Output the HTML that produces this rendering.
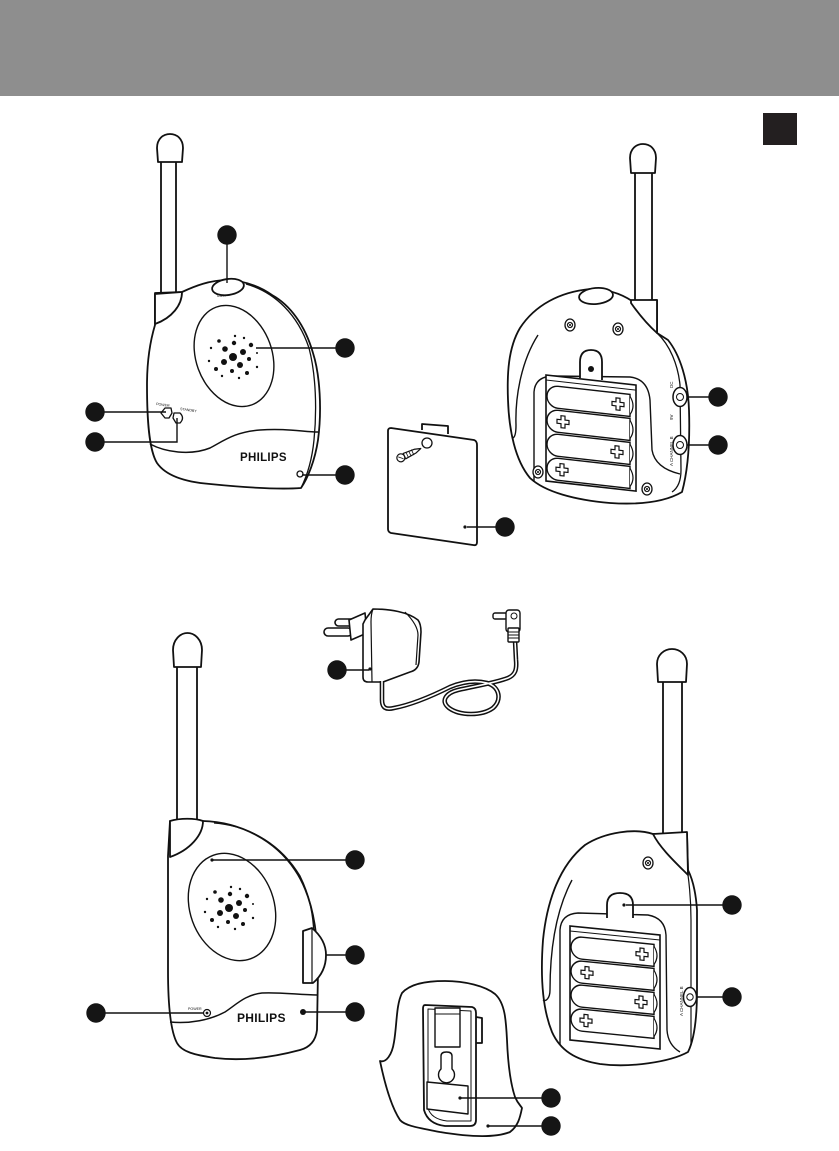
<!DOCTYPE html>
<html><head><meta charset="utf-8"><style>
html,body{margin:0;padding:0;background:#fff;}
svg{display:block;}
text{font-family:"Liberation Sans",sans-serif;fill:#111;}
</style></head><body>
<svg width="839" height="1151" viewBox="0 0 839 1151" xmlns="http://www.w3.org/2000/svg">
<defs>
<g id="dots" fill="#111">
<circle cx="219" cy="341" r="1.8"/><circle cx="235" cy="336" r="1.2"/><circle cx="244" cy="338" r="1.2"/><circle cx="211" cy="348" r="1.2"/>
<circle cx="225" cy="349" r="2.8"/><circle cx="234" cy="343" r="2.2"/><circle cx="243" cy="352" r="3"/><circle cx="251" cy="345" r="2.2"/>
<circle cx="233" cy="357" r="4"/><circle cx="224" cy="362" r="3"/><circle cx="240" cy="365" r="3"/><circle cx="249" cy="359" r="2"/>
<circle cx="209" cy="361" r="1.2"/><circle cx="216" cy="369" r="2"/><circle cx="232" cy="371" r="2"/><circle cx="247" cy="373" r="2"/>
<circle cx="222" cy="376" r="1.2"/><circle cx="239" cy="378" r="1.2"/><circle cx="257" cy="367" r="1.2"/><circle cx="257" cy="353" r="1"/>
</g>
<g id="batt">
<path d="M12,0 L84,0 L84,22 L12,22 A11,11 0 0 1 12,0 Z" fill="#fff" stroke="#111" stroke-width="1.4"/>
<path d="M84,2 Q90,11 84,20" fill="#fff" stroke="#111" stroke-width="1.2"/>
</g>
<path id="plus" d="M-2,-6 L2,-6 L2,-2 L6,-2 L6,2 L2,2 L2,6 L-2,6 L-2,2 L-6,2 L-6,-2 L-2,-2 Z" fill="#fff" stroke="#111" stroke-width="1.2"/>
<g id="screw"><ellipse cx="0" cy="0" rx="5" ry="6" fill="#fff" stroke="#111" stroke-width="1.3"/><circle cx="0" cy="0" r="2.6" fill="none" stroke="#111" stroke-width="1"/><path d="M-1.5,-1.5 L1.5,1.5 M1.5,-1.5 L-1.5,1.5" stroke="#111" stroke-width="0.8"/></g>
</defs>

<!-- header -->
<rect x="0" y="0" width="839" height="96" fill="#8e8e8e"/>
<rect x="763" y="113" width="34" height="32" fill="#231f20"/>

<g fill="#fff" stroke="#111" stroke-width="1.8" stroke-linejoin="round">
<!-- ===== Unit A (top-left front) ===== -->
<rect x="161" y="160" width="15" height="136"/>
<path d="M158,162 L157,148 C157,139 163,134 170,134 C177,134 183,139 183,148 L182,162 Z"/>
<path d="M155,293 L155,325 C149,345 147,365 147,385 C147,420 149,450 157,463 C166,476 185,482 210,484 C240,487 275,490 301,488 C308,478 315,460 318,440 C322,410 320,375 313,353 C305,325 290,305 272,295 C258,285 243,281 228,280 C210,280 195,286 182,292 Z"/>
<path d="M155,294 L182,292 C182,305 172,318 155,324 Z"/>
<path d="M246,284 C275,292 298,315 309,348 C316,375 317,410 314,440 C312,460 307,476 301,488" fill="none" stroke-width="1.3"/>
<ellipse cx="228" cy="287" rx="16" ry="8" transform="rotate(-8 228 287)"/>
<ellipse cx="234" cy="356" rx="38" ry="52" transform="rotate(-20 234 356)" stroke-width="1.4"/>
<path d="M150,444 C165,452 190,456 210,448 C225,440 235,432 260,430 C285,428 305,432 318,432" fill="none" stroke-width="1.5"/>
<path d="M171,408 L165,408 L161,413 L165,418 L169,418 L172,413 Z" stroke-width="1.3"/>
<path d="M174,413 L180,413 Q185,418 180,423 L176,423 L173,418 Z" stroke-width="1.3"/>
<circle cx="300" cy="474" r="3" stroke-width="1.3"/>

<!-- ===== Unit B (top-right back) ===== -->
<rect x="635" y="170" width="17" height="133"/>
<path d="M631,173 L630,158 C630,149 636,144 643,144 C650,144 656,149 656,158 L655,173 Z"/>
<path d="M590,289 C560,292 535,305 520,328 C508,348 507,375 508,400 C509,430 515,460 530,478 C545,492 575,500 610,503 C640,505 665,502 682,492 C688,470 690,440 689,410 C688,380 680,355 668,340 L657,333 L657,300 L632,301 C620,293 605,289 590,289 Z"/>
<path d="M631,300 L657,300 L657,333 C648,325 638,313 631,303 Z"/>
<ellipse cx="596" cy="296" rx="17" ry="8" transform="rotate(-5 596 296)"/>
<path d="M538,335 C522,360 515,395 516,425 C516,432 515,437 513,438" fill="none" stroke-width="1.4"/>
<path d="M657,333 C670,345 678,365 680,385 L681,470 C681,480 678,488 672,492" fill="none" stroke-width="1.3"/>
<path d="M534,482 L534,392 Q535,377 552,376 L630,377 Q648,379 650,400 L652,450 Q655,468 680,474" fill="none" stroke-width="1.4"/>
<path d="M580,378 L580,362 Q580,350 591,350 Q602,350 602,362 L602,380"/>
</g>
<circle cx="591" cy="369" r="3" fill="#111"/>
<g transform="translate(546,382) skewY(6.4)">
<rect x="0" y="-7" width="90" height="106" fill="#fff" stroke="#111" stroke-width="1.6"/>
<line x1="0" y1="-2" x2="90" y2="-2" stroke="#111" stroke-width="1"/>
<use href="#batt" y="3"/><use href="#batt" y="27"/><use href="#batt" y="51"/><use href="#batt" y="75"/>
<use href="#plus" x="72" y="14"/><use href="#plus" x="17" y="38"/><use href="#plus" x="71" y="62"/><use href="#plus" x="16" y="86"/>
</g>
<use href="#screw" x="570" y="325"/><use href="#screw" x="618" y="329"/><use href="#screw" x="538" y="472"/><use href="#screw" x="647" y="489"/>
<g fill="#fff" stroke="#111" stroke-width="1.5">
<ellipse cx="680" cy="397" rx="7" ry="9.5"/><circle cx="680" cy="397" r="3.5" stroke-width="1"/>
<ellipse cx="680" cy="445" rx="7" ry="9.5"/><circle cx="680" cy="445" r="3.5" stroke-width="1"/>
</g>
<text font-size="4.5" transform="translate(673,388) rotate(-90)">DC</text>
<text font-size="4.5" transform="translate(673,420) rotate(-90)">9V</text>
<text font-size="4.5" transform="translate(673,466) rotate(-90)">A CHANNEL B</text>

<!-- Battery cover -->
<g fill="#fff" stroke="#111" stroke-width="1.8" stroke-linejoin="round">
<path d="M422,430 L422,424 L448,426 L448,434"/>
<path d="M391,428 L474,440 Q477,441 477,445 L477,542 Q477,546 473,545 L391,533 Q388,532 388,529 L388,431 Q388,428 391,428 Z"/>
<circle cx="427" cy="443" r="5" stroke-width="1.3"/>
<g transform="rotate(-25 409 454)" stroke-width="1.2">
<ellipse cx="400" cy="454" rx="4" ry="4"/>
<path d="M404,451 L416,452 L422,454 L416,456 L404,457 Z"/>
<path d="M407,451 L407,457 M410,451 L410,457 M413,451 L413,457" stroke-width="0.8"/>
<path d="M398,452 L402,456" stroke-width="0.8"/>
</g>
</g>
<circle cx="465" cy="527" r="1.6" fill="#111"/>

<!-- Adapter -->
<g fill="#fff" stroke="#111" stroke-width="1.6" stroke-linejoin="round">
<rect x="335" y="619" width="22" height="7" rx="3.5"/>
<rect x="324" y="628" width="28" height="8" rx="4"/>
<path d="M349,620 L365,613 L367,633 L351,640 Z"/>
<path d="M365,620 L373,609 C390,609 408,612 418,620 Q421,624 421,632 L419,662 Q418,670 410,672 L383,682 L368,682 Q363,682 363,677 L363,624 Z"/>
<path d="M373,609 Q371,614 371,622 L372,682" fill="none" stroke-width="1.2"/>
<path d="M405,612 Q418,625 418,635 L416,665" fill="none" stroke-width="1.2"/>
</g>
<path d="M382,681 L382,700 C382,708 386,710 394,708 C410,705 430,697 450,687 C462,682 475,680 487,683 C500,687 502,700 493,708 C482,716 460,716 449,708 C440,701 446,693 458,690 C475,686 495,683 508,678 C515,675 517,670 516,660 L515,640" fill="none" stroke="#111" stroke-width="4.6"/>
<path d="M382,681 L382,700 C382,708 386,710 394,708 C410,705 430,697 450,687 C462,682 475,680 487,683 C500,687 502,700 493,708 C482,716 460,716 449,708 C440,701 446,693 458,690 C475,686 495,683 508,678 C515,675 517,670 516,660 L515,640" fill="none" stroke="#fff" stroke-width="1.6"/>
<g fill="#fff" stroke="#111" stroke-width="1.4">
<rect x="493" y="613" width="14" height="6" rx="2"/>
<rect x="506" y="610" width="14" height="22" rx="3"/>
<rect x="508" y="628" width="11" height="14" rx="1"/>
<path d="M508,632 L519,632 M508,635 L519,635 M508,638 L519,638" stroke-width="1"/>
<circle cx="514" cy="616" r="3" stroke-width="1"/>
</g>
<circle cx="370" cy="669" r="1.6" fill="#111"/>

<!-- ===== Unit C (bottom-left front) ===== -->
<g fill="#fff" stroke="#111" stroke-width="1.8" stroke-linejoin="round">
<rect x="177" y="664" width="20" height="158"/>
<path d="M174,667 L173,650 C173,640 180,633 187.5,633 C195,633 202,640 202,650 L201,667 Z"/>
<path d="M203,821 C240,822 275,840 295,870 C312,895 318,930 318,970 L317,1030 Q315,1046 300,1050 C270,1058 240,1061 215,1058 C195,1055 182,1052 177,1043 C170,1030 168,1000 168,970 L168,856 L170,821 Z"/>
<path d="M170,821 C180,818 195,818 203,821 C203,835 190,850 170,857 Z"/>
<path d="M214,823 C252,826 282,846 300,876 C311,898 314,920 314,940" fill="none" stroke-width="1.3"/>
<ellipse cx="232" cy="907" rx="42" ry="55" transform="rotate(-20 232 907)" stroke-width="1.4"/>
<path d="M170,1022 C190,1024 210,1020 225,1012 C237,1004 245,995 262,993 C280,992 300,995 317,995" fill="none" stroke-width="1.5"/>
<path d="M303,931 L312,928 Q326,940 326,955 Q326,972 313,983 L303,983 Z"/>
<path d="M312,928 L312,983" fill="none" stroke-width="1.2"/>
<circle cx="207" cy="1013" r="3.5" stroke-width="1.2"/>
</g>
<circle cx="207" cy="1013" r="1.4" fill="#111"/>
<circle cx="303" cy="1012" r="3" fill="#111"/>

<!-- ===== Unit D (bottom-right back) ===== -->
<g fill="#fff" stroke="#111" stroke-width="1.8" stroke-linejoin="round">
<rect x="663" y="680" width="19" height="155"/>
<path d="M658,682 L657,664 C657,655 664,649 672,649 C680,649 687,655 687,664 L686,682 Z"/>
<path d="M653,834 C635,828 605,832 585,845 C560,865 547,900 543,940 C540,980 543,1010 552,1032 C560,1050 575,1060 600,1064 C630,1068 670,1062 688,1052 C694,1040 697,1020 697,990 L697,910 C696,895 693,880 688,870 L687,834 Z"/>
<path d="M653,834 L687,832 L688,875 C675,862 660,848 653,834 Z"/>
<path d="M572,880 C556,910 550,950 550,990 C550,998 546,1002 543,1000" fill="none" stroke-width="1.4"/>
<path d="M688,875 C690,890 691,905 691,920 L691,1045" fill="none" stroke-width="1.2"/>
<path d="M560,1045 L560,930 Q561,914 578,913 L648,915 Q665,918 666,935 L667,1030 Q668,1045 680,1052" fill="none" stroke-width="1.4"/>
<path d="M607,918 L607,905 Q607,893 620,893 Q633,893 633,905 L633,918"/>
</g>
<circle cx="624" cy="905" r="1.6" fill="#111"/>
<g transform="translate(570,934) skewY(5.7)">
<rect x="0" y="-8" width="90" height="114" fill="#fff" stroke="#111" stroke-width="1.6"/>
<line x1="0" y1="-3" x2="90" y2="-3" stroke="#111" stroke-width="1"/>
<use href="#batt" y="2"/><use href="#batt" y="26"/><use href="#batt" y="50"/><use href="#batt" y="74"/>
<use href="#plus" x="72" y="13"/><use href="#plus" x="17" y="37"/><use href="#plus" x="71" y="61"/><use href="#plus" x="16" y="85"/>
</g>
<use href="#screw" x="648" y="863"/>
<g fill="#fff" stroke="#111" stroke-width="1.5">
<ellipse cx="690" cy="997" rx="6.5" ry="9.5"/><circle cx="690" cy="997" r="3.2" stroke-width="1"/>
</g>
<text font-size="4.5" transform="translate(683,1016) rotate(-90)">A CHANNEL B</text>

<!-- Belt clip -->
<g fill="#fff" stroke="#111" stroke-width="1.8" stroke-linejoin="round">
<path d="M380,1061 C386,1063 392,1055 394,1042 C397,1025 396,1005 402,993 C410,984 425,981 445,981 C465,981 485,986 495,994 C505,1003 506,1020 507,1040 C508,1065 511,1085 515,1097 C518,1104 521,1106 522,1108 C520,1118 518,1126 510,1132 C495,1138 470,1137 440,1132 C420,1128 405,1126 400,1120 C392,1108 385,1085 380,1061 Z"/>
<path d="M476,1017 L482,1018 L482,1043 L476,1043"/>
<path d="M425,1005 L472,1007 Q476,1008 476,1013 L476,1120 Q476,1126 470,1126 L445,1126 Q428,1124 424,1110 L423,1009 Q423,1005 425,1005 Z"/>
<path d="M428,1009 L471,1011 L471,1121 L447,1121 Q431,1119 428,1108 Z" fill="none" stroke-width="1"/>
<rect x="435" y="1008" width="25" height="39" stroke-width="1.4"/>
<line x1="435" y1="1014" x2="460" y2="1014" stroke-width="1"/>
<path d="M441,1056 Q441,1052 446.5,1052 Q452,1052 452,1056 L452,1069 A8,8 0 1 1 441,1069 Z" stroke-width="1.4"/>
<path d="M427,1082 L468,1086 L468,1114 L427,1109 Z" stroke-width="1.4"/>
</g>
<circle cx="460" cy="1098" r="1.6" fill="#111"/>
<circle cx="488" cy="1126" r="1.6" fill="#111"/>

<!-- speaker dots -->
<use href="#dots"/>
<use href="#dots" transform="translate(-4,551)"/>
<circle cx="212" cy="860" r="1.6" fill="#111"/>

<!-- small labels -->
<text x="216" y="297" font-size="4">TALK</text>
<text x="156" y="405" font-size="3.6" transform="rotate(8 156 405)">POWER</text>
<text x="180" y="410" font-size="3.6" transform="rotate(8 180 410)">STANDBY</text>
<text x="240" y="461" font-size="11.5" font-weight="bold" letter-spacing="0.3">PHILIPS</text>
<text x="188" y="1010" font-size="3.6">POWER</text>
<text x="237" y="1022" font-size="12" font-weight="bold" letter-spacing="0.3">PHILIPS</text>

<!-- callout lines -->
<g stroke="#111" stroke-width="1.4" fill="none">
<path d="M227,244 L227,283"/>
<path d="M256,348 L336,348"/>
<path d="M104,412 L166,412"/>
<path d="M104,442 L177,442 L177,418"/>
<path d="M302,475 L336,475"/>
<path d="M687,397 L709,397"/>
<path d="M687,445 L709,445"/>
<path d="M467,527 L496,527"/>
<path d="M346,670 L369,670"/>
<path d="M213,860 L346,860"/>
<path d="M326,955 L346,955"/>
<path d="M305,1012 L346,1012"/>
<path d="M105,1013 L204,1013"/>
<path d="M626,905 L723,905"/>
<path d="M697,997 L723,997"/>
<path d="M461,1098 L542,1098"/>
<path d="M489,1126 L542,1126"/>
</g>

<!-- callout circles -->
<g fill="#151515">
<circle cx="227" cy="235" r="9.7"/>
<circle cx="345" cy="348" r="9.7"/>
<circle cx="95" cy="412" r="9.7"/>
<circle cx="95" cy="442" r="9.7"/>
<circle cx="345" cy="475" r="9.7"/>
<circle cx="718" cy="397" r="9.7"/>
<circle cx="718" cy="445" r="9.7"/>
<circle cx="505" cy="527" r="9.7"/>
<circle cx="337" cy="670" r="9.7"/>
<circle cx="355" cy="860" r="9.7"/>
<circle cx="355" cy="955" r="9.7"/>
<circle cx="355" cy="1012" r="9.7"/>
<circle cx="96" cy="1013" r="9.7"/>
<circle cx="732" cy="905" r="9.7"/>
<circle cx="732" cy="997" r="9.7"/>
<circle cx="551" cy="1098" r="9.7"/>
<circle cx="551" cy="1126" r="9.7"/>
</g>
</svg>
</body></html>
